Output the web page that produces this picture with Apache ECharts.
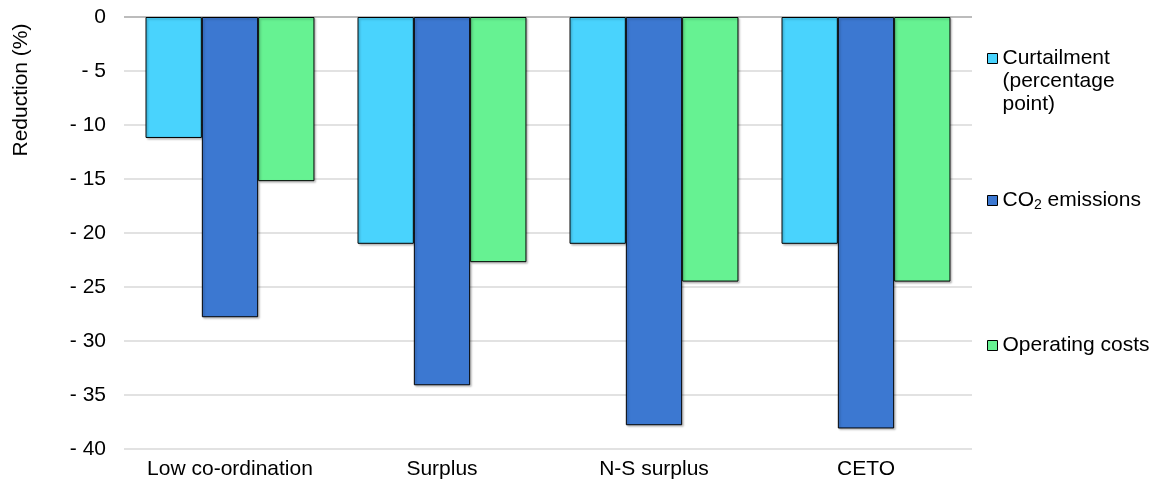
<!DOCTYPE html>
<html>
<head>
<meta charset="utf-8">
<style>
  html, body { margin: 0; padding: 0; background: #fff; }
  #chart { width: 1158px; height: 482px; }
</style>
<script src="https://cdn.jsdelivr.net/npm/echarts@6/dist/echarts.min.js"></script>
</head>
<body>
<div id="chart"></div>
<script>
// Scenarios along the category axis
const categories = ['Low co-ordination', 'Surplus', 'N-S surplus', 'CETO'];

// Reductions per scenario (%)
const curtailment = [-11.2, -21.0, -21.0, -21.0];
const co2Emissions = [-27.8, -34.1, -37.8, -38.1];
const operatingCosts = [-15.2, -22.7, -24.5, -24.5];

// Value axis range and step
const yMin = -40;
const yMax = 0;
const yStep = 5;

const FONT = '"Liberation Sans", Arial, sans-serif';
const FS = 21;

const chart = echarts.init(document.getElementById('chart'), null, { renderer: 'canvas' });

const barStyle = (color) => ({
  color: color,
  borderColor: '#000',
  borderWidth: 1,
  shadowColor: 'rgba(0,0,0,0.25)',
  shadowBlur: 2,
  shadowOffsetX: 1.5,
  shadowOffsetY: 1.5
});

const legendBase = {
  orient: 'vertical',
  left: 987,
  padding: 0,
  itemWidth: 10,
  itemHeight: 10,
  icon: 'rect',
  selectedMode: false,
  itemStyle: { borderColor: '#000', borderWidth: 1 },
  textStyle: { fontFamily: FONT, fontSize: FS, color: '#000', lineHeight: 23 }
};

const option = {
  animation: false,
  backgroundColor: '#fff',
  textStyle: { fontFamily: FONT },
  grid: { left: 124, right: 186, top: 17, bottom: 33, containLabel: false },
  legend: [
    Object.assign({}, legendBase, {
      top: 1,
      data: ['Curtailment'],
      // two leading blank lines keep the icon level with the first line
      formatter: () => '\n\nCurtailment\n(percentage\npoint)'
    }),
    Object.assign({}, legendBase, {
      top: 189,
      data: ['CO2 emissions'],
      formatter: () => 'CO{sub|2} emissions',
      textStyle: Object.assign({}, legendBase.textStyle, {
        rich: {
          sub: { fontFamily: FONT, fontSize: 14, color: '#000', padding: [9, 0, 0, 0] }
        }
      })
    }),
    Object.assign({}, legendBase, {
      top: 334,
      data: ['Operating costs']
    })
  ],
  xAxis: {
    type: 'category',
    data: categories,
    position: 'bottom',
    axisLine: { show: false },
    axisTick: { show: false },
    axisLabel: { fontFamily: FONT, fontSize: FS, color: '#000', margin: 10, interval: 0 }
  },
  yAxis: {
    type: 'value',
    min: yMin,
    max: yMax,
    interval: yStep,
    name: 'Reduction (%)',
    nameLocation: 'middle',
    nameRotate: 90,
    nameGap: 92,
    nameTextStyle: { fontFamily: FONT, fontSize: FS, color: '#000', padding: [0, 0, 0, 286] },
    axisLine: { show: false },
    axisTick: { show: false },
    axisLabel: {
      fontFamily: FONT, fontSize: FS, color: '#000', margin: 18,
      formatter: (v) => (v === 0 ? '0' : '- ' + Math.abs(v))
    },
    splitLine: {
      show: true,
      lineStyle: {
        width: 1.5,
        color: ['#d9d9d9', '#d9d9d9', '#d9d9d9', '#d9d9d9', '#d9d9d9', '#d9d9d9', '#d9d9d9', '#d9d9d9', '#a6a6a6']
      }
    }
  },
  series: [
    {
      name: 'Curtailment',
      type: 'bar',
      data: curtailment,
      barGap: '0%',
      barCategoryGap: '20.3%',
      itemStyle: barStyle('#49D3FD')
    },
    {
      name: 'CO2 emissions',
      type: 'bar',
      data: co2Emissions,
      barGap: '0%',
      barCategoryGap: '20.3%',
      itemStyle: barStyle('#3C78D1')
    },
    {
      name: 'Operating costs',
      type: 'bar',
      data: operatingCosts,
      barGap: '0%',
      barCategoryGap: '20.3%',
      itemStyle: barStyle('#66F292')
    }
  ]
};

chart.setOption(option);
</script>
</body>
</html>
